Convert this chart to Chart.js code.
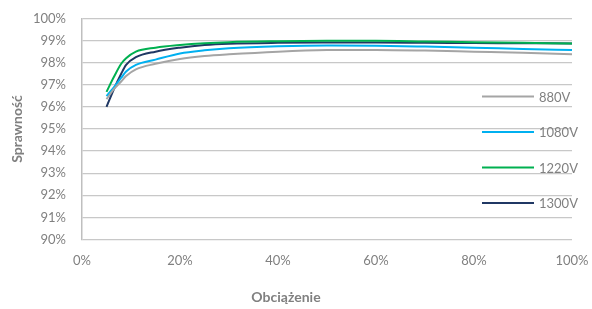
<!DOCTYPE html>
<html>
<head>
<meta charset="utf-8">
<script src="https://cdn.jsdelivr.net/npm/chart.js@4"></script>
<style>
    html, body { margin: 0; padding: 0; background: #fff; }
    #wrap { width: 592px; height: 309px; position: relative; }
</style>
</head>
<body>
<div id="wrap"><canvas id="line-chart"></canvas></div>
<script>
// load values (%)
var loads = [5, 6.5, 8, 9, 11, 15, 20, 25, 30, 40, 50, 60, 70, 80, 90, 100]

// efficiency per voltage (%)
var eff880 = [96.35, 96.8, 97.15, 97.4, 97.7, 97.95, 98.17, 98.3, 98.38, 98.5, 98.57, 98.58, 98.55, 98.5, 98.45, 98.38]
var eff1080 = [96.49, 96.88, 97.32, 97.6, 97.9, 98.14, 98.42, 98.56, 98.65, 98.74, 98.78, 98.77, 98.73, 98.68, 98.62, 98.57]
var eff1220 = [96.68, 97.35, 97.95, 98.2, 98.5, 98.68, 98.8, 98.88, 98.93, 98.97, 98.99, 98.99, 98.96, 98.93, 98.9, 98.87]
var eff1300 = [96.0, 96.8, 97.5, 97.9, 98.25, 98.5, 98.68, 98.8, 98.86, 98.9, 98.91, 98.91, 98.9, 98.89, 98.88, 98.87]

var seriesNames = ['880V', '1080V', '1220V', '1300V']
var seriesColors = ['#a5a5a5', '#00b0f0', '#00b050', '#203864']

var xTicks = [0, 20, 40, 60, 80, 100]

var font = 'Lato'
var grey = '#808080'

function points(values) {
    return values.map(function(v, i) { return {x: loads[i], y: v} })
}

// line options
var options = {
    borderWidth: 2,
    cubicInterpolationMode: 'monotone',
    pointRadius: 0,
    fill: false
}

// legend drawn inside the plot, right side
var insideLegend = {
    id: 'insideLegend',
    afterDraw: function(chart) {
        var ctx = chart.ctx
        var area = chart.chartArea
        ctx.save()
        ctx.font = '13px ' + font
        ctx.textBaseline = 'middle'
        ctx.textAlign = 'left'
        chart.data.datasets.forEach(function(ds, i) {
            var y = area.top + 78 + i * 35.5
            ctx.strokeStyle = ds.borderColor
            ctx.lineWidth = 2
            ctx.beginPath()
            ctx.moveTo(area.right - 90, y)
            ctx.lineTo(area.right - 38, y)
            ctx.stroke()
            ctx.fillStyle = grey
            ctx.fillText(ds.label, area.right - 33, y + 1)
        })
        ctx.restore()
    }
}

var lineChart = document.getElementById('line-chart').getContext('2d')

new Chart(
    lineChart,
    {
        type: 'line',
        data: {
            datasets: [eff880, eff1080, eff1220, eff1300].map(function(vals, i) {
                return {
                    label: seriesNames[i],
                    data: points(vals),
                    ...options,
                    borderColor: seriesColors[i]
                }
            })
        },
        options: {
            responsive: true,
            maintainAspectRatio: false,
            animation: false,
            layout: {
                padding: {top: 18.5, right: 20, left: 0, bottom: 0}
            },
            plugins: {
                legend: { display: false },
                tooltip: { enabled: false },
                title: {
                    display: true,
                    position: 'bottom',
                    text: 'Obciążenie',
                    color: grey,
                    font: {family: font, size: 14, weight: 'bold'},
                    padding: {top: 10, bottom: 3}
                }
            },
            scales: {
                x: {
                    type: 'linear',
                    min: 0,
                    max: 100,
                    afterFit: function(scale) {
                        scale.height = 39.7
                        scale.paddingLeft = 0 // labels may overhang the padding
                        scale.paddingRight = 0
                    },
                    afterBuildTicks: function(scale) {
                        scale.ticks = xTicks.map(function(v) { return {value: v} })
                    },
                    grid: { display: false, drawTicks: false },
                    border: { display: false },
                    ticks: {
                        color: grey,
                        font: {family: font, size: 13},
                        padding: 14,
                        maxRotation: 0,
                        callback: function(value) { return value + '%' }
                    }
                },
                y: {
                    min: 90,
                    max: 100,
                    afterFit: function(scale) {
                        scale.width = 82
                        scale.paddingTop = 0
                        scale.paddingBottom = 0
                    },
                    grid: {
                        color: '#c8c8c8',
                        lineWidth: 1.3,
                        drawTicks: false
                    },
                    border: { display: true, color: '#bfbfbf', width: 1.5 },
                    ticks: {
                        stepSize: 1,
                        color: grey,
                        font: {family: font, size: 13},
                        padding: 16,
                        callback: function(value) { return value + '%' }
                    },
                    title: {
                        display: true,
                        text: 'Sprawność',
                        color: grey,
                        font: {family: font, size: 14, weight: 'bold'},
                        padding: {top: 9, bottom: 0}
                    }
                }
            }
        },
        plugins: [insideLegend]
    }
)
</script>
</body>
</html>
